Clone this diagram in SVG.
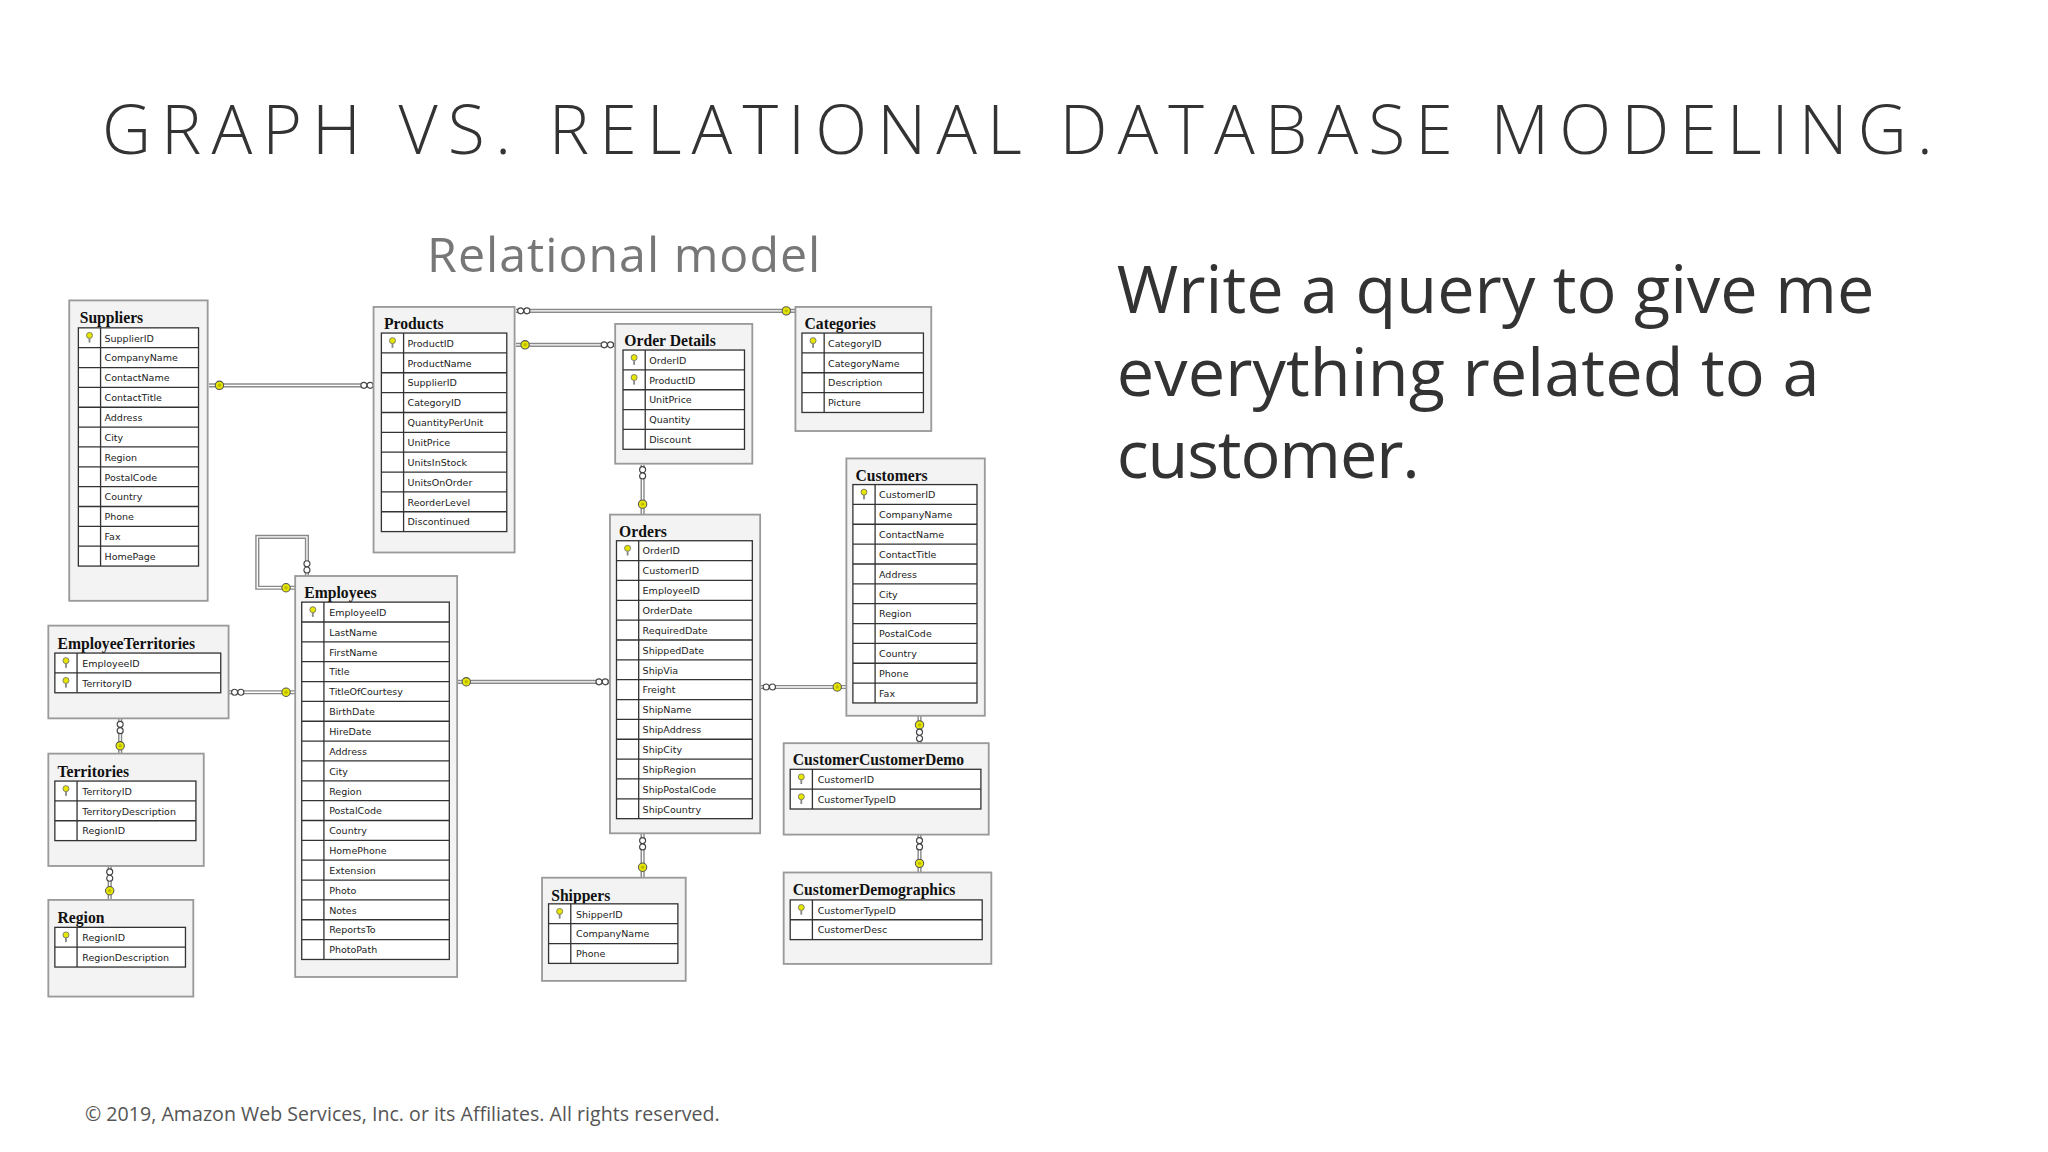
<svg xmlns="http://www.w3.org/2000/svg" width="2048" height="1152" viewBox="0 0 2048 1152">
<style>
.ob{fill:#f3f3f3;stroke:#9a9a9a;stroke-width:1.4}
.ib{fill:#fff;stroke:#333;stroke-width:1}
.gl{fill:none;stroke:#333;stroke-width:1}
.tt{font-family:"Liberation Serif",serif;font-weight:bold;font-size:12px;fill:#111}
.rw{font-family:"DejaVu Sans",sans-serif;font-size:7.3px;fill:#222}
.c1{fill:none;stroke:#8a8a8a;stroke-width:3.2}
.c2{fill:none;stroke:#fff;stroke-width:1}
.ky{fill:#e6e600;stroke:#555;stroke-width:0.8}
.mn{fill:#fff;stroke:#444;stroke-width:0.9}
</style>
<defs>
<g id="key"><circle cx="0" cy="-1.8" r="2.3" fill="#e6e600" stroke="#666" stroke-width="0.6"/><rect x="-0.7" y="0.3" width="1.4" height="3.4" fill="#888"/></g>
<g id="kc"><circle r="3.2" class="ky"/><circle r="1.3" fill="#bb0"/></g>
<g id="mh"><circle cx="-2.4" r="2.3" class="mn"/><circle cx="2.4" r="2.3" class="mn"/></g>
<g id="mv"><circle cy="-2.4" r="2.3" class="mn"/><circle cy="2.4" r="2.3" class="mn"/></g>
</defs>
<rect width="2048" height="1152" fill="#fff"/>
<g transform="scale(1.30612)">
<text x="78" y="118" textLength="1402" lengthAdjust="spacing" style="font-family:'Open Sans',sans-serif;font-weight:300;font-size:52px;fill:#333">GRAPH VS. RELATIONAL DATABASE MODELING.</text>
<text x="327" y="208" textLength="301" style="font-family:'Open Sans',sans-serif;font-size:37px;fill:#777">Relational model</text>
<g style="font-family:'Open Sans',sans-serif;font-size:51px;fill:#333">
<text x="855" y="240" textLength="580">Write a query to give me</text>
<text x="855" y="303" textLength="538">everything related to a</text>
<text x="855" y="366" textLength="232">customer.</text>
</g>
<text x="65" y="858" textLength="486" style="font-family:'Open Sans',sans-serif;font-size:15px;fill:#555">© 2019, Amazon Web Services, Inc. or its Affiliates. All rights reserved.</text>

<g id="connectors">
<path class="c1" d="M160 295H286M395 238H609M395 264H471M492 356V394M235 441V411H197V450H226M175 530H226M350 522H467M582 526H648M92 550V577M84 663V689M492 638V672M704 548V569M704 639V668"/>
<path class="c2" d="M160 295H286M395 238H609M395 264H471M492 356V394M235 441V411H197V450H226M175 530H226M350 522H467M582 526H648M92 550V577M84 663V689M492 638V672M704 548V569M704 639V668"/>
<use href="#kc" x="168" y="295"/><use href="#mh" x="281" y="295"/>
<use href="#mh" x="401" y="238"/><use href="#kc" x="602" y="238"/>
<use href="#kc" x="402" y="264"/><use href="#mh" x="465" y="264"/>
<use href="#mv" x="492" y="362"/><use href="#kc" x="492" y="386"/>
<use href="#mv" x="235" y="434"/><use href="#kc" x="219" y="450"/>
<use href="#mh" x="182" y="530"/><use href="#kc" x="219" y="530"/>
<use href="#kc" x="357" y="522"/><use href="#mh" x="461" y="522"/>
<use href="#mh" x="589" y="526"/><use href="#kc" x="641" y="526"/>
<use href="#mv" x="92" y="557"/><use href="#kc" x="92" y="571"/>
<use href="#mv" x="84" y="670"/><use href="#kc" x="84" y="682"/>
<use href="#mv" x="492" y="646"/><use href="#kc" x="492" y="664"/>
<use href="#kc" x="704" y="555"/><use href="#mv" x="704" y="563"/>
<use href="#mv" x="704" y="646"/><use href="#kc" x="704" y="661"/>
</g>

<g id="Suppliers">
<rect class="ob" x="53" y="230" width="106" height="230"/>
<text class="tt" x="61" y="247">Suppliers</text>
<rect class="ib" x="60" y="251" width="92" height="182.4"/>
<path class="gl" d="M77 251V433.4M60 266.2h92m-92 15.2h92m-92 15.2h92m-92 15.2h92m-92 15.2h92m-92 15.2h92m-92 15.2h92m-92 15.2h92m-92 15.2h92m-92 15.2h92m-92 15.2h92"/>
<use href="#key" x="68.5" y="258.6"/>
<g class="rw"><text x="80" y="261.5">SupplierID</text><text x="80" y="276.7">CompanyName</text><text x="80" y="291.9">ContactName</text><text x="80" y="307.1">ContactTitle</text><text x="80" y="322.3">Address</text><text x="80" y="337.5">City</text><text x="80" y="352.7">Region</text><text x="80" y="367.9">PostalCode</text><text x="80" y="383.1">Country</text><text x="80" y="398.3">Phone</text><text x="80" y="413.5">Fax</text><text x="80" y="428.7">HomePage</text></g>
</g>

<g id="Products">
<rect class="ob" x="286" y="235" width="108" height="188"/>
<text class="tt" x="294" y="252">Products</text>
<rect class="ib" x="292" y="255" width="96" height="152"/>
<path class="gl" d="M309 255V407M292 270.2h96m-96 15.2h96m-96 15.2h96m-96 15.2h96m-96 15.2h96m-96 15.2h96m-96 15.2h96m-96 15.2h96m-96 15.2h96"/>
<use href="#key" x="300.5" y="262.6"/>
<g class="rw"><text x="312" y="265.5">ProductID</text><text x="312" y="280.7">ProductName</text><text x="312" y="295.9">SupplierID</text><text x="312" y="311.1">CategoryID</text><text x="312" y="326.3">QuantityPerUnit</text><text x="312" y="341.5">UnitPrice</text><text x="312" y="356.7">UnitsInStock</text><text x="312" y="371.9">UnitsOnOrder</text><text x="312" y="387.1">ReorderLevel</text><text x="312" y="402.3">Discontinued</text></g>
</g>

<g id="OrderDetails">
<rect class="ob" x="471" y="248" width="105" height="107"/>
<text class="tt" x="478" y="265">Order Details</text>
<rect class="ib" x="477" y="268" width="93" height="76"/>
<path class="gl" d="M494 268V344M477 283.2h93m-93 15.2h93m-93 15.2h93m-93 15.2h93"/>
<use href="#key" x="485.5" y="275.6"/><use href="#key" x="485.5" y="290.8"/>
<g class="rw"><text x="497" y="278.5">OrderID</text><text x="497" y="293.7">ProductID</text><text x="497" y="308.9">UnitPrice</text><text x="497" y="324.1">Quantity</text><text x="497" y="339.3">Discount</text></g>
</g>

<g id="Categories">
<rect class="ob" x="609" y="235" width="104" height="95"/>
<text class="tt" x="616" y="252">Categories</text>
<rect class="ib" x="614" y="255" width="93" height="60.8"/>
<path class="gl" d="M631 255V315.8M614 270.2h93m-93 15.2h93m-93 15.2h93"/>
<use href="#key" x="622.5" y="262.6"/>
<g class="rw"><text x="634" y="265.5">CategoryID</text><text x="634" y="280.7">CategoryName</text><text x="634" y="295.9">Description</text><text x="634" y="311.1">Picture</text></g>
</g>

<g id="Customers">
<rect class="ob" x="648" y="351" width="106" height="197"/>
<text class="tt" x="655" y="368">Customers</text>
<rect class="ib" x="653" y="371" width="95" height="167.2"/>
<path class="gl" d="M670 371V538.2M653 386.2h95m-95 15.2h95m-95 15.2h95m-95 15.2h95m-95 15.2h95m-95 15.2h95m-95 15.2h95m-95 15.2h95m-95 15.2h95m-95 15.2h95"/>
<use href="#key" x="661.5" y="378.6"/>
<g class="rw"><text x="673" y="381.5">CustomerID</text><text x="673" y="396.7">CompanyName</text><text x="673" y="411.9">ContactName</text><text x="673" y="427.1">ContactTitle</text><text x="673" y="442.3">Address</text><text x="673" y="457.5">City</text><text x="673" y="472.7">Region</text><text x="673" y="487.9">PostalCode</text><text x="673" y="503.1">Country</text><text x="673" y="518.3">Phone</text><text x="673" y="533.5">Fax</text></g>
</g>

<g id="Orders">
<rect class="ob" x="467" y="394" width="115" height="244"/>
<text class="tt" x="474" y="411">Orders</text>
<rect class="ib" x="472" y="414" width="104" height="212.8"/>
<path class="gl" d="M489 414V626.8M472 429.2h104m-104 15.2h104m-104 15.2h104m-104 15.2h104m-104 15.2h104m-104 15.2h104m-104 15.2h104m-104 15.2h104m-104 15.2h104m-104 15.2h104m-104 15.2h104m-104 15.2h104m-104 15.2h104"/>
<use href="#key" x="480.5" y="421.6"/>
<g class="rw"><text x="492" y="424.5">OrderID</text><text x="492" y="439.7">CustomerID</text><text x="492" y="454.9">EmployeeID</text><text x="492" y="470.1">OrderDate</text><text x="492" y="485.3">RequiredDate</text><text x="492" y="500.5">ShippedDate</text><text x="492" y="515.7">ShipVia</text><text x="492" y="530.9">Freight</text><text x="492" y="546.1">ShipName</text><text x="492" y="561.3">ShipAddress</text><text x="492" y="576.5">ShipCity</text><text x="492" y="591.7">ShipRegion</text><text x="492" y="606.9">ShipPostalCode</text><text x="492" y="622.1">ShipCountry</text></g>
</g>

<g id="Employees">
<rect class="ob" x="226" y="441" width="124" height="307"/>
<text class="tt" x="233" y="458">Employees</text>
<rect class="ib" x="231" y="461" width="113" height="273.6"/>
<path class="gl" d="M248 461V734.6M231 476.2h113m-113 15.2h113m-113 15.2h113m-113 15.2h113m-113 15.2h113m-113 15.2h113m-113 15.2h113m-113 15.2h113m-113 15.2h113m-113 15.2h113m-113 15.2h113m-113 15.2h113m-113 15.2h113m-113 15.2h113m-113 15.2h113m-113 15.2h113m-113 15.2h113"/>
<use href="#key" x="239.5" y="468.6"/>
<g class="rw"><text x="252" y="471.5">EmployeeID</text><text x="252" y="486.7">LastName</text><text x="252" y="501.9">FirstName</text><text x="252" y="517.1">Title</text><text x="252" y="532.3">TitleOfCourtesy</text><text x="252" y="547.5">BirthDate</text><text x="252" y="562.7">HireDate</text><text x="252" y="577.9">Address</text><text x="252" y="593.1">City</text><text x="252" y="608.3">Region</text><text x="252" y="623.5">PostalCode</text><text x="252" y="638.7">Country</text><text x="252" y="653.9">HomePhone</text><text x="252" y="669.1">Extension</text><text x="252" y="684.3">Photo</text><text x="252" y="699.5">Notes</text><text x="252" y="714.7">ReportsTo</text><text x="252" y="729.9">PhotoPath</text></g>
</g>

<g id="EmployeeTerritories">
<rect class="ob" x="37" y="479" width="138" height="71"/>
<text class="tt" x="44" y="497">EmployeeTerritories</text>
<rect class="ib" x="42" y="500" width="127" height="30.4"/>
<path class="gl" d="M59 500V530.4M42 515.2h127"/>
<use href="#key" x="50.5" y="507.6"/><use href="#key" x="50.5" y="522.8"/>
<g class="rw"><text x="63" y="510.5">EmployeeID</text><text x="63" y="525.7">TerritoryID</text></g>
</g>

<g id="Territories">
<rect class="ob" x="37" y="577" width="119" height="86"/>
<text class="tt" x="44" y="595">Territories</text>
<rect class="ib" x="42" y="598" width="108" height="45.6"/>
<path class="gl" d="M59 598V643.6M42 613.2h108m-108 15.2h108"/>
<use href="#key" x="50.5" y="605.6"/>
<g class="rw"><text x="63" y="608.5">TerritoryID</text><text x="63" y="623.7">TerritoryDescription</text><text x="63" y="638.9">RegionID</text></g>
</g>

<g id="Region">
<rect class="ob" x="37" y="689" width="111" height="74"/>
<text class="tt" x="44" y="707">Region</text>
<rect class="ib" x="42" y="710" width="100" height="30.4"/>
<path class="gl" d="M59 710V740.4M42 725.2h100"/>
<use href="#key" x="50.5" y="717.6"/>
<g class="rw"><text x="63" y="720.5">RegionID</text><text x="63" y="735.7">RegionDescription</text></g>
</g>

<g id="Shippers">
<rect class="ob" x="415" y="672" width="110" height="79"/>
<text class="tt" x="422" y="690">Shippers</text>
<rect class="ib" x="420" y="692" width="99" height="45.6"/>
<path class="gl" d="M437 692V737.6M420 707.2h99m-99 15.2h99"/>
<use href="#key" x="428.5" y="699.6"/>
<g class="rw"><text x="441" y="702.5">ShipperID</text><text x="441" y="717.7">CompanyName</text><text x="441" y="732.9">Phone</text></g>
</g>

<g id="CustomerCustomerDemo">
<rect class="ob" x="600" y="569" width="157" height="70"/>
<text class="tt" x="607" y="586">CustomerCustomerDemo</text>
<rect class="ib" x="605" y="589" width="146" height="30.4"/>
<path class="gl" d="M622 589V619.4M605 604.2h146"/>
<use href="#key" x="613.5" y="596.6"/><use href="#key" x="613.5" y="611.8"/>
<g class="rw"><text x="626" y="599.5">CustomerID</text><text x="626" y="614.7">CustomerTypeID</text></g>
</g>

<g id="CustomerDemographics">
<rect class="ob" x="600" y="668" width="159" height="70"/>
<text class="tt" x="607" y="685">CustomerDemographics</text>
<rect class="ib" x="605" y="689" width="147" height="30.4"/>
<path class="gl" d="M622 689V719.4M605 704.2h147"/>
<use href="#key" x="613.5" y="696.6"/>
<g class="rw"><text x="626" y="699.5">CustomerTypeID</text><text x="626" y="714.7">CustomerDesc</text></g>
</g>
</g>
</svg>
